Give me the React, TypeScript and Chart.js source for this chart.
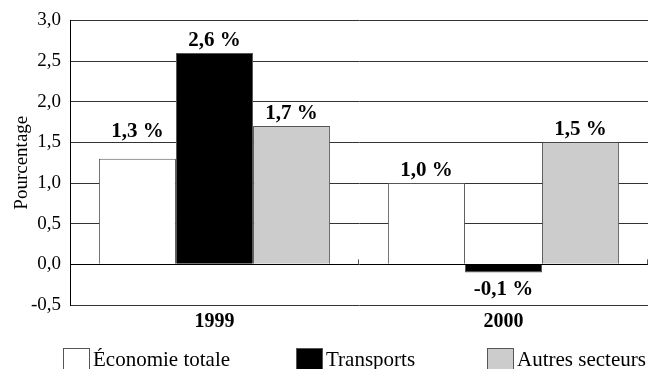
import { useEffect, useRef } from "react";
import { Chart, registerables } from "chart.js";

Chart.register(...registerables);

// Annual growth by sector, in percent
const categories = ["1999", "2000"];
const seriesNames = ["Économie totale", "Transports", "Autres secteurs"];
const economieTotale = [1.3, 1.0];
const transports = [2.6, -0.1];
const autresSecteurs = [1.7, 1.5];
const seriesColors = ["#ffffff", "#000000", "#cccccc"];
const yMin = -0.5;
const yMax = 3.0;
const yStep = 0.5;
const yTitle = "Pourcentage";

const FONT = "'Liberation Serif', 'Times New Roman', serif";

const fmt = (v: number) => v.toFixed(1).replace(".", ",");

// Bold value labels above (or below) each bar, nudged clear of gridlines
const valueLabels = {
  id: "valueLabels",
  afterDatasetsDraw(chart: any) {
    const { ctx } = chart;
    const yScale = chart.scales.y;
    const grid = yScale.ticks.map((t: any) => yScale.getPixelForValue(t.value));
    ctx.save();
    ctx.font = `bold 21px ${FONT}`;
    ctx.fillStyle = "#000";
    ctx.textAlign = "center";
    ctx.textBaseline = "alphabetic";
    const capH = 14;
    chart.data.datasets.forEach((ds: any, di: number) => {
      const meta = chart.getDatasetMeta(di);
      meta.data.forEach((bar: any, i: number) => {
        const v = ds.data[i];
        const text = `${fmt(v)} %`;
        let baseline: number;
        if (v >= 0) {
          baseline = bar.y - 7;
          for (const g of grid) {
            if (g > baseline - capH - 2 && g < baseline + 2) {
              baseline = g - 5;
            }
          }
        } else {
          baseline = bar.y + 9 + capH;
        }
        ctx.fillText(text, bar.x, baseline);
      });
    });
    ctx.restore();
  },
};

// Short category separators rising from the zero line
const zeroTicks = {
  id: "zeroTicks",
  afterDraw(chart: any) {
    const { ctx } = chart;
    const x = chart.scales.x;
    const y0 = chart.scales.y.getPixelForValue(0);
    ctx.save();
    ctx.strokeStyle = "#555";
    ctx.lineWidth = 1;
    for (let i = 1; i <= categories.length; i++) {
      const px = Math.round(x.getPixelForValue(i - 0.5)) - 0.5;
      ctx.beginPath();
      ctx.moveTo(px, y0);
      ctx.lineTo(px, y0 - 5);
      ctx.stroke();
    }
    ctx.restore();
  },
};

// Legend row along the bottom edge
const bottomLegend = {
  id: "bottomLegend",
  afterDraw(chart: any) {
    const { ctx } = chart;
    const xs = [63, 296, 487];
    const top = 348;
    ctx.save();
    ctx.font = `21px ${FONT}`;
    ctx.textBaseline = "alphabetic";
    ctx.textAlign = "left";
    chart.data.datasets.forEach((ds: any, i: number) => {
      const x = xs[i];
      ctx.fillStyle = ds.backgroundColor;
      ctx.fillRect(x, top, 27, 24);
      ctx.strokeStyle = "#555";
      ctx.lineWidth = 1;
      ctx.strokeRect(x + 0.5, top + 0.5, 26, 24);
      ctx.fillStyle = "#000";
      ctx.fillText(ds.label, x + 30, 366);
    });
    ctx.restore();
  },
};

export default function App() {
  const ref = useRef<HTMLCanvasElement>(null);

  useEffect(() => {
    if (!ref.current) return;
    const seriesValues = [economieTotale, transports, autresSecteurs];
    const chart = new Chart(ref.current, {
      type: "bar",
      data: {
        labels: categories,
        datasets: seriesNames.map((name, i) => ({
          label: name,
          data: seriesValues[i],
          backgroundColor: seriesColors[i],
          borderColor: "#555",
          borderWidth: 1,
          categoryPercentage: 0.8,
          barPercentage: 1.0,
        })),
      },
      options: {
        responsive: false,
        animation: false,
        layout: { padding: { top: 20, right: 1, left: 0, bottom: 0 } },
        plugins: {
          legend: { display: false },
          tooltip: { enabled: false },
        },
        scales: {
          x: {
            grid: { display: false, drawTicks: false },
            border: { display: false },
            ticks: {
              color: "#000",
              font: { family: FONT, size: 20, weight: "bold" },
              padding: 5,
            },
            afterFit(scale: any) {
              scale.height = 64;
            },
          },
          y: {
            min: yMin,
            max: yMax,
            ticks: {
              stepSize: yStep,
              color: "#000",
              font: { family: FONT, size: 19 },
              padding: 9,
              callback: (v: any) => fmt(Number(v)),
            },
            grid: {
              drawTicks: false,
              color: (c: any) => (c.tick && c.tick.value === 0 ? "#000" : "#333"),
              lineWidth: 1,
            },
            border: { display: true, color: "#000", width: 1 },
            title: {
              display: true,
              text: yTitle,
              color: "#000",
              font: { family: FONT, size: 19 },
              padding: { top: 11, bottom: 0 },
            },
            afterFit(scale: any) {
              scale.width = 70;
            },
          },
        },
      },
      plugins: [valueLabels, zeroTicks, bottomLegend],
    });
    return () => chart.destroy();
  }, []);

  return (
    <div style={{ position: "absolute", left: 0, top: 0, width: 649, height: 369, background: "#fff" }}>
      <canvas ref={ref} width={649} height={369} />
    </div>
  );
}
